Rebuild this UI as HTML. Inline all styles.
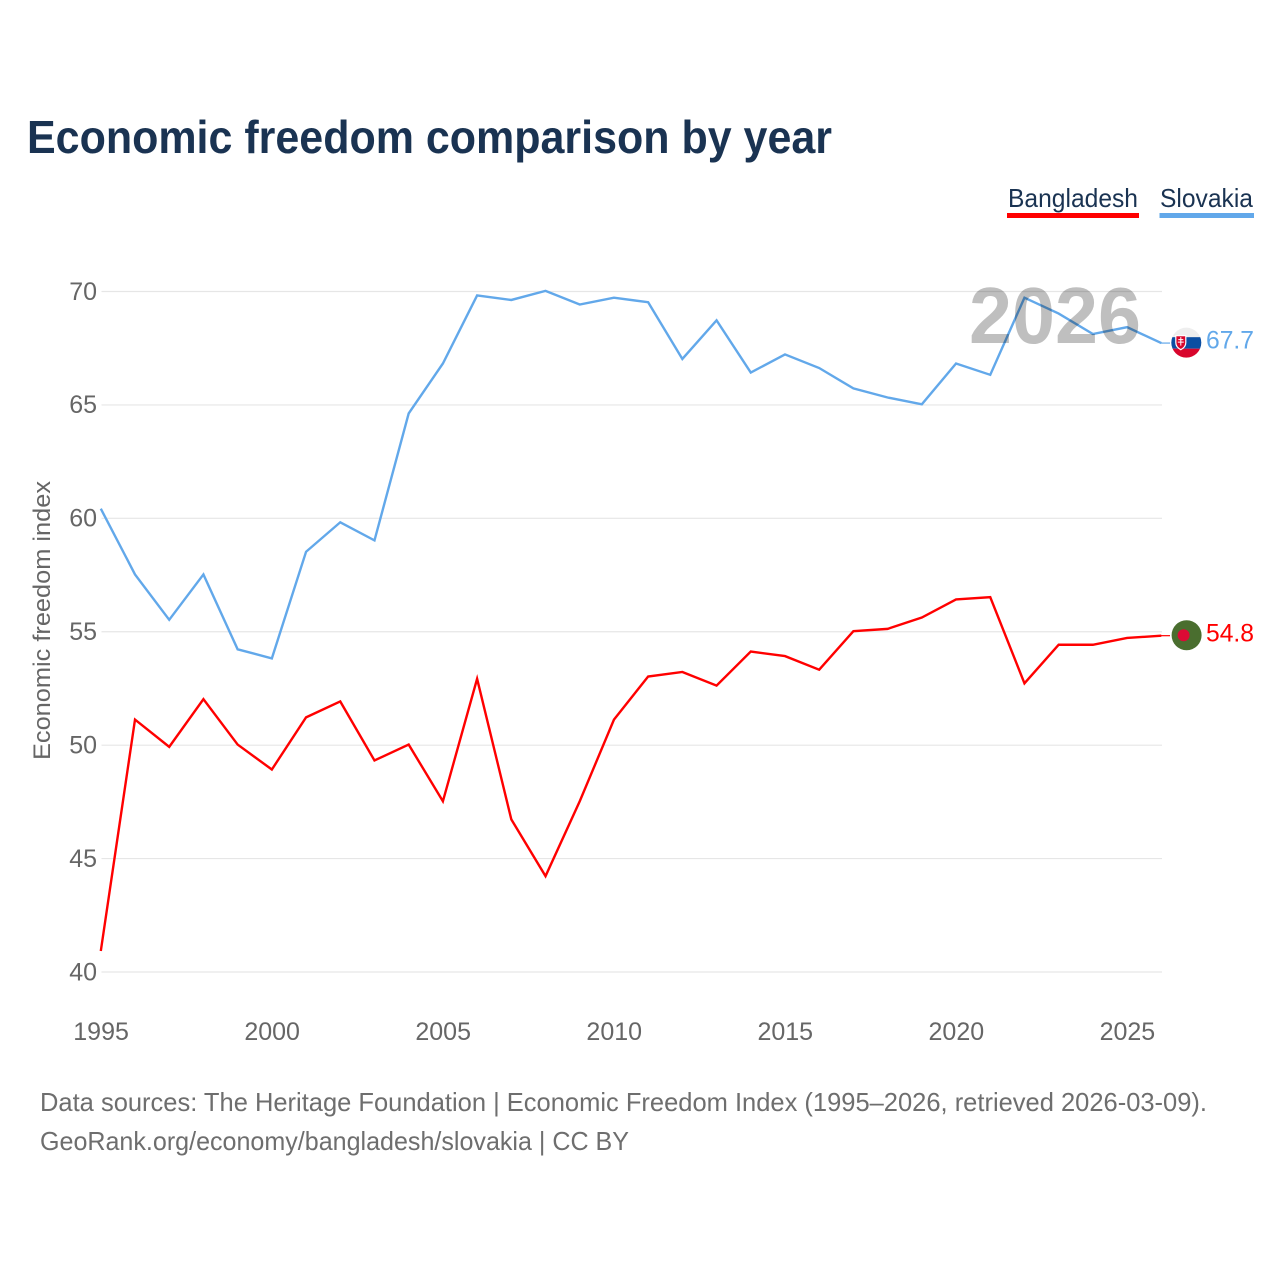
<!DOCTYPE html>
<html lang="en">
<head>
<meta charset="utf-8">
<title>Economic freedom comparison by year</title>
<style>
html,body{margin:0;padding:0;background:#fff;width:1280px;height:1280px;overflow:hidden}
svg{display:block}
text{font-family:"Liberation Sans",sans-serif}
</style>
</head>
<body>
<svg id="chart" width="1280" height="1280" viewBox="0 0 1280 1280" xmlns="http://www.w3.org/2000/svg">
  <defs>
    <clipPath id="flag-clip-sk"><circle cx="0" cy="0" r="15"/></clipPath>
  </defs>
  <text x="27" y="153" font-size="46" font-weight="700" fill="#1a3352" textLength="805" lengthAdjust="spacingAndGlyphs">Economic freedom comparison by year</text>

  <g>
    <text x="1008" y="207" font-size="26" fill="#1a3352" textLength="130" lengthAdjust="spacingAndGlyphs">Bangladesh</text>
    <rect x="1007" y="213" width="132" height="5" fill="#ff0000"/>
  </g>
  <g>
    <text x="1160" y="207" font-size="26" fill="#1a3352" textLength="93" lengthAdjust="spacingAndGlyphs">Slovakia</text>
    <rect x="1159.5" y="213" width="94.5" height="5" fill="#62a8ea"/>
  </g>

  <g id="grid"></g>
  <g id="y-ticks"></g>
  <g id="x-ticks"></g>
  <text transform="translate(50 620.5) rotate(-90)" text-anchor="middle" font-size="24.5" fill="#666666" textLength="279" lengthAdjust="spacingAndGlyphs">Economic freedom index</text>

  <line id="connector-bangladesh" x1="1161" x2="1170" stroke="#ff0000" stroke-width="1.2"/>
  <line id="connector-slovakia" x1="1161" x2="1170" stroke="#62a8ea" stroke-width="1.2"/>
  <path id="line-bangladesh" fill="none" stroke="#ff0000" stroke-width="2.4" stroke-linejoin="miter"/>
  <path id="line-slovakia" fill="none" stroke="#62a8ea" stroke-width="2.4" stroke-linejoin="miter"/>

  <text x="969" y="343" font-size="80" font-weight="700" fill="#000000" fill-opacity="0.25" textLength="172" lengthAdjust="spacingAndGlyphs">2026</text>

  <g id="flag-slovakia">
    <g clip-path="url(#flag-clip-sk)">
      <rect x="-16" y="-16" width="32" height="11" fill="#eeeeee"/>
      <rect x="-16" y="-5.5" width="32" height="11.5" fill="#0b4ea2"/>
      <rect x="-16" y="6" width="32" height="10" fill="#d8052c"/>
    </g>
    <path d="M-10.5 -7 h10 v7 q0 4.5 -5 7 q-5 -2.5 -5 -7 z" fill="#d8052c" stroke="#ffffff" stroke-width="1.2"/>
    <path d="M-6 -5.5 h1 v2 h2 v1 h-2 v1.5 h2.5 v1 h-2.5 v3 h-1 v-3 h-2.5 v-1 h2.5 v-1.5 h-2 v-1 h2 z" fill="#ffffff"/>
  </g>
  <g id="flag-bangladesh">
    <circle cx="0" cy="0" r="15" fill="#4a6e2f"/>
    <circle cx="-3" cy="0" r="6" fill="#dc0a35"/>
  </g>
  <text id="value-slovakia" x="1254" text-anchor="end" font-size="25" fill="#62a8ea" textLength="48" lengthAdjust="spacingAndGlyphs"></text>
  <text id="value-bangladesh" x="1254" text-anchor="end" font-size="25" fill="#ff0000" textLength="48" lengthAdjust="spacingAndGlyphs"></text>

  <text x="40" y="1111" font-size="26" fill="#6e6e6e" textLength="1167" lengthAdjust="spacingAndGlyphs">Data sources: The Heritage Foundation | Economic Freedom Index (1995–2026, retrieved 2026-03-09).</text>
  <text x="40" y="1150" font-size="26" fill="#6e6e6e" textLength="589" lengthAdjust="spacingAndGlyphs">GeoRank.org/economy/bangladesh/slovakia | CC BY</text>
</svg>
<script>
const startYear = 1995;
const xTickLabels = [1995, 2000, 2005, 2010, 2015, 2020, 2025];
const yTickLabels = [40, 45, 50, 55, 60, 65, 70];
const bangladesh = [40.9, 51.1, 49.9, 52.0, 50.0, 48.9, 51.2, 51.9, 49.3, 50.0, 47.5, 52.9, 46.7, 44.2, 47.5, 51.1, 53.0, 53.2, 52.6, 54.1, 53.9, 53.3, 55.0, 55.1, 55.6, 56.4, 56.5, 52.7, 54.4, 54.4, 54.7, 54.8];
const slovakia = [60.4, 57.5, 55.5, 57.5, 54.2, 53.8, 58.5, 59.8, 59.0, 64.6, 66.8, 69.8, 69.6, 70.0, 69.4, 69.7, 69.5, 67.0, 68.7, 66.4, 67.2, 66.6, 65.7, 65.3, 65.0, 66.8, 66.3, 69.7, 69.0, 68.1, 68.4, 67.7];

const SVG_NS = 'http://www.w3.org/2000/svg';
const x = function (year) { return 101.5 + (year - 1995) * (1162 - 101.5) / 31; };
const y = function (value) { return 972 - (value - 40) * (972 - 291.5) / 30; };

function linePath(values) {
  return values.map(function (v, i) {
    return (i ? 'L' : 'M') + (x(startYear + i) - 0.7).toFixed(2) + ' ' + (y(v) - 0.6).toFixed(2);
  }).join(' ');
}

const gridGroup = document.getElementById('grid');
const yGroup = document.getElementById('y-ticks');
const xGroup = document.getElementById('x-ticks');

yTickLabels.forEach(function (t) {
  const ln = document.createElementNS(SVG_NS, 'line');
  
  
  ln.setAttribute('x1', x(1995));
  ln.setAttribute('x2', x(2026));
  ln.setAttribute('y1', y(t));
  ln.setAttribute('y2', y(t));
  ln.setAttribute('stroke', '#e6e6e6');
  ln.setAttribute('stroke-width', '1.2');
  gridGroup.appendChild(ln);

  const lb = document.createElementNS(SVG_NS, 'text');
  
  
  lb.setAttribute('x', 97);
  lb.setAttribute('y', y(t) + 8.3);
  lb.setAttribute('text-anchor', 'end');
  lb.setAttribute('font-size', '25');
  lb.setAttribute('fill', '#666666');
  lb.textContent = t;
  yGroup.appendChild(lb);
});

xTickLabels.forEach(function (t) {
  const lb = document.createElementNS(SVG_NS, 'text');
  
  
  lb.setAttribute('x', x(t) - 0.4);
  lb.setAttribute('y', 1040);
  lb.setAttribute('text-anchor', 'middle');
  lb.setAttribute('font-size', '25');
  lb.setAttribute('fill', '#666666');
  lb.textContent = t;
  xGroup.appendChild(lb);
});

document.getElementById('line-bangladesh').setAttribute('d', linePath(bangladesh));
document.getElementById('line-slovakia').setAttribute('d', linePath(slovakia));

const lastB = bangladesh[bangladesh.length - 1];
const lastS = slovakia[slovakia.length - 1];
const connB = document.getElementById('connector-bangladesh');
connB.setAttribute('y1', y(lastB) - 0.6);
connB.setAttribute('y2', y(lastB) - 0.6);
const connS = document.getElementById('connector-slovakia');
connS.setAttribute('y1', y(lastS) - 0.6);
connS.setAttribute('y2', y(lastS) - 0.6);
document.getElementById('flag-slovakia').setAttribute('transform', 'translate(1186.3 ' + (y(lastS) - 1) + ')');
document.getElementById('flag-bangladesh').setAttribute('transform', 'translate(1186.6 ' + (y(lastB) - 1) + ')');
const vs = document.getElementById('value-slovakia');
vs.setAttribute('y', y(lastS) + 5);
vs.textContent = lastS.toFixed(1);
const vb = document.getElementById('value-bangladesh');
vb.setAttribute('y', y(lastB) + 5);
vb.textContent = lastB.toFixed(1);
</script>
</body>
</html>
